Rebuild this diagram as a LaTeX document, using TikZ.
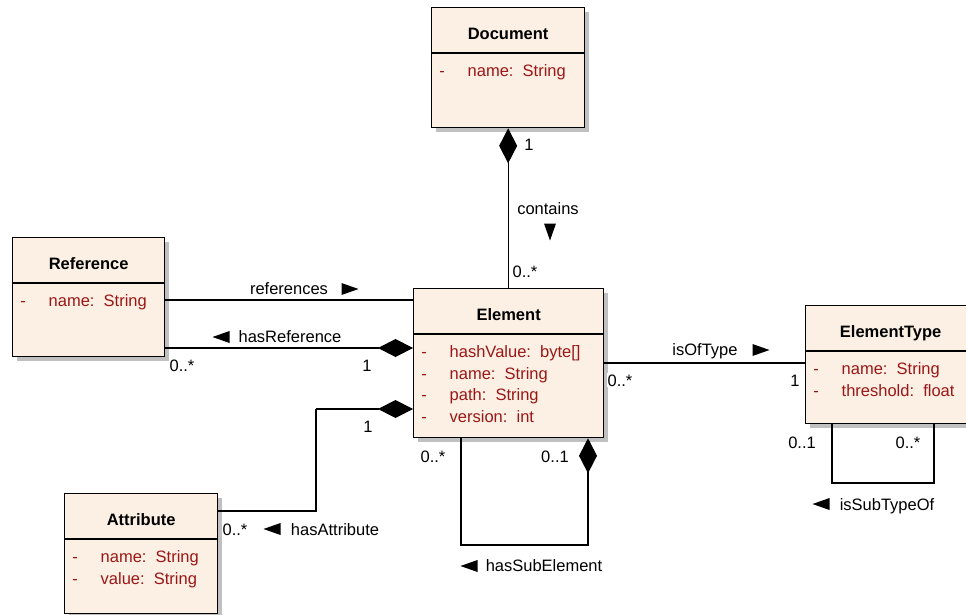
\documentclass[tikz,border=0pt]{standalone}
\usepackage{fontspec}
\setmainfont{Liberation Sans}
\usetikzlibrary{arrows.meta,calc,shadows}

\definecolor{classfill}{RGB}{251,240,227}
\definecolor{attrred}{RGB}{155,22,22}
\definecolor{shadowgray}{RGB}{192,192,192}

\newcommand\umlfont{\fontsize{16.5}{20}\selectfont}

\tikzset{
  classbox/.style={draw=black, line width=1.3pt, fill=classfill, anchor=north west,
    inner sep=0pt,
    drop shadow={shadow xshift=4pt, shadow yshift=-4pt, fill=shadowgray, opacity=1}},
  classtitle/.style={anchor=base, inner sep=0pt, font=\umlfont\bfseries},
  attrtext/.style={anchor=base west, inner sep=0pt, text=attrred, font=\umlfont},
  attrdash/.style={anchor=base, inner sep=0pt, text=attrred, font=\umlfont},
  divider/.style={line width=1.3pt},
  assoc/.style={line width=1.2pt},
  composite/.style={assoc, -{Diamond[length=35pt,width=18pt]}},
  rcomposite/.style={assoc, {Diamond[length=35pt,width=18pt]}-},
  lbl/.style={anchor=base, inner sep=0pt, font=\umlfont},
  mult/.style={anchor=base, inner sep=1pt, fill=white, font=\umlfont},
  dirtri/.pic={\fill (-8.5,-6) -- (8.5,0) -- (-8.5,6) -- cycle;}
}

% title, divider line and attribute rows of a class box
\newcommand\classhead[2]{%
  \node[classtitle] (#1-title) at ($(#1.north)+(0,32)$) {#2};
  \draw[divider] ($(#1.north west)+(0,46)$) -- ($(#1.north east)+(0,46)$);}
\newcommand\classrow[3]{%
  \node[attrdash] at ($(#1.north west)+(11,{69.5+21.7*#2})$) {-};
  \node[attrtext] at ($(#1.north west)+(36.5,{69.5+21.7*#2})$) {#3};}

\begin{document}
\begin{tikzpicture}[x=1pt,y=-1pt]
\useasboundingbox (0,0) rectangle (966,614);
\clip (0,0) rectangle (966,614);
\fill[white] (0,0) rectangle (966,614);

% class boxes
\node[classbox, minimum width=153pt, minimum height=120pt] (doc) at (431,7) {};
\classhead{doc}{Document}
\classrow{doc}{0}{name:\ \ String}

\node[classbox, minimum width=152pt, minimum height=119pt] (ref) at (12,237) {};
\classhead{ref}{Reference}
\classrow{ref}{0}{name:\ \ String}

\node[classbox, minimum width=190pt, minimum height=149pt] (elem) at (413,288) {};
\classhead{elem}{Element}
\classrow{elem}{0}{hashValue:\ \ byte[]}
\classrow{elem}{1}{name:\ \ String}
\classrow{elem}{2}{path:\ \ String}
\classrow{elem}{3}{version:\ \ int}

\node[classbox, minimum width=170pt, minimum height=118pt] (etype) at (805,305) {};
\classhead{etype}{ElementType}
\classrow{etype}{0}{name:\ \ String}
\classrow{etype}{1}{threshold:\ \ float}

\node[classbox, minimum width=153pt, minimum height=120pt] (attr) at (64,493) {};
\classhead{attr}{Attribute}
\classrow{attr}{0}{name:\ \ String}
\classrow{attr}{1}{value:\ \ String}

% routing points of the connectors
\coordinate (refY) at (0,300);
\coordinate (hasRefY) at (0,348);
\coordinate (attrY) at (0,511);
\coordinate (attrBend) at (316,409);
\coordinate (typeY) at (0,363);
\coordinate (subL) at (461,545);
\coordinate (subR) at (588,545);
\coordinate (stL) at (832,483);
\coordinate (stR) at (934,483);

% associations
\draw[rcomposite] (doc.south) -- (doc.south |- elem.north);
\draw[assoc] (ref.east |- refY) -- (elem.west |- refY);
\draw[composite] (ref.east |- hasRefY) -- (elem.west |- hasRefY);
\draw[assoc] (attr.east |- attrY) -| (attrBend);
\draw[composite] (attrBend) -- (elem.west |- attrBend);
\draw[assoc] (elem.east |- typeY) -- (etype.west |- typeY);
\draw[rcomposite] (elem.south -| subR) -- (subR) -- (subL) -- (elem.south -| subL);
\draw[assoc] (etype.south -| stL) -- (stL) -- (stR) -- (etype.south -| stR);

% association names and reading directions
\node[lbl] (containsLbl) at (548,214) {contains};
\pic[rotate=-90] at (550,232) {dirtri};
\node[lbl] (refLbl) at (289,294) {references};
\pic at (350,289) {dirtri};
\node[lbl] (hasRefLbl) at (290,342) {hasReference};
\pic[rotate=180] at (221,337) {dirtri};
\node[lbl] (typeLbl) at (705,355) {isOfType};
\pic at (761,350) {dirtri};
\node[lbl] (attrLbl) at (335,535) {hasAttribute};
\pic[rotate=180] at (272,529) {dirtri};
\node[lbl] (subLbl) at (544,571) {hasSubElement};
\pic[rotate=180] at (469,566) {dirtri};
\node[lbl] (stLbl) at (887,510) {isSubTypeOf};
\pic[rotate=180] at (821,504) {dirtri};

% multiplicities
\node[mult] at (529,150) {1};
\node[mult] at (525,277) {0..*};
\node[mult] at (182,371) {0..*};
\node[mult] at (367,371) {1};
\node[mult] at (368,432) {1};
\node[mult] at (620,386) {0..*};
\node[mult] at (795,386) {1};
\node[mult] at (433,462) {0..*};
\node[mult] at (555,462) {0..1};
\node[mult] at (802,448) {0..1};
\node[mult] at (908,448) {0..*};
\node[mult] at (235,535) {0..*};
\end{tikzpicture}
\end{document}
